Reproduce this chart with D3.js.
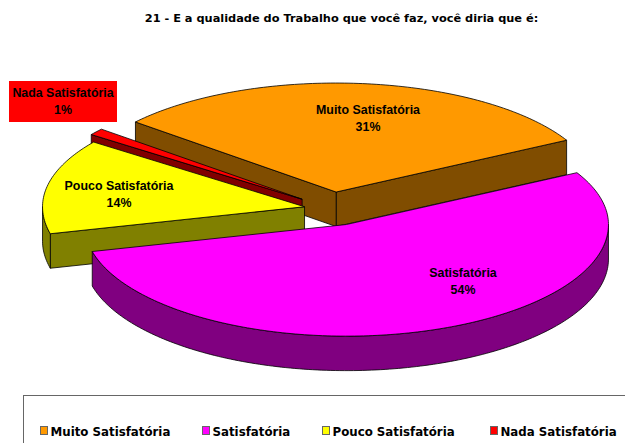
<!DOCTYPE html>
<html>
<head>
<meta charset="utf-8">
<script src="https://cdn.jsdelivr.net/npm/d3@7"></script>
<style>
html,body{margin:0;padding:0;background:#fff;overflow:hidden}
svg{display:block}
</style>
</head>
<body>
<svg id="c" width="625" height="443"></svg>
<script>
const title = "21 - E a qualidade do Trabalho que você faz, você diria que é:";
const categories = ["Muito Satisfatória","Satisfatória","Pouco Satisfatória","Nada Satisfatória"];
const values = [31,54,14,1];
const topColors = ["#FF9900","#FF00FF","#FFFF00","#FF0000"];
const sideColors = ["#804D00","#800080","#808000","#800000"];
const explosions = [41,40,28,38];

// layout
const W=625,H=443,cx=332,cy=209,R=262,squashFar=0.416,squashNear=0.426,depth=34.5;
const rad=d=>d*Math.PI/180;
const drawOrder=[0,3,2,1];
const labelCentres=[[368,110],[463,273],[119,186],[63,93]];
const legendMarks=[40,202,322,490];
const svg=d3.select("#c");

const arcs=d3.pie().sort(null).startAngle(rad(-50)).endAngle(rad(310))(values);
const line=d3.line();
const rim=(o,a,dz=0)=>{const c=Math.cos(a);
  return [o[0]+R*Math.sin(a),o[1]-R*(c<0?squashNear:squashFar)*c+dz];};
const sweep=(a0,a1)=>{const n=Math.max(2,Math.ceil(Math.abs(a1-a0)/rad(1)));
  return d3.range(n+1).map(i=>a0+(a1-a0)*i/n);};

const pieG=svg.append("g").attr("stroke","#000").attr("stroke-width",0.8).attr("stroke-linejoin","round");
drawOrder.forEach(i=>{
  const d=arcs[i],mid=(d.startAngle+d.endAngle)/2,e=explosions[i];
  const o=[cx+e*Math.sin(mid),cy-e*squashFar*Math.cos(mid)];
  const side=sideColors[i];
  // cut faces that look toward the viewer
  [d.endAngle,d.startAngle].forEach((a,k)=>{
    const visible=k===0?Math.sin(a)>0:Math.sin(a)<0;
    if(!visible) return;
    const p=rim(o,a);
    pieG.append("path").attr("fill",side)
      .attr("d",line([o,p,[p[0],p[1]+depth],[o[0],o[1]+depth]])+"Z");
  });
  // outer wall: the part of the rim on the near side
  const a0=Math.max(d.startAngle,Math.PI/2),a1=Math.min(d.endAngle,3*Math.PI/2);
  if(a1>a0){
    const up=sweep(a0,a1).map(a=>rim(o,a));
    const dn=sweep(a1,a0).map(a=>rim(o,a,depth));
    pieG.append("path").attr("fill",side).attr("d",line(up.concat(dn))+"Z");
  }
  // top face
  const top=[o].concat(sweep(d.startAngle,d.endAngle).map(a=>rim(o,a)));
  pieG.append("path").attr("fill",topColors[i]).attr("d",line(top)+"Z");
});

// title
svg.append("text").attr("x",341.5).attr("y",22).attr("text-anchor","middle")
  .attr("font-family","'DejaVu Sans',Verdana,sans-serif").attr("font-weight","bold")
  .attr("font-size",11.35).attr("fill","#000").text(title);

// red background of the small slice's label
svg.append("rect").attr("x",9).attr("y",81).attr("width",108).attr("height",41).attr("fill",topColors[3]);

// data labels
const labelG=svg.append("g").attr("font-family","'Liberation Sans',Arial,sans-serif")
  .attr("font-weight","bold").attr("font-size",12.4).attr("text-anchor","middle").attr("fill","#000");
categories.forEach((c,i)=>{
  const [x,y]=labelCentres[i];
  labelG.append("text").attr("x",x).attr("y",y+4).text(c);
  labelG.append("text").attr("x",x).attr("y",y+21).text(values[i]+"%");
});

// legend
svg.append("rect").attr("x",23.5).attr("y",395.5).attr("width",640).attr("height",80)
  .attr("fill","#fff").attr("stroke","#666").attr("stroke-width",1);
categories.forEach((c,i)=>{
  const x=legendMarks[i];
  svg.append("rect").attr("x",x+.5).attr("y",426.5).attr("width",7).attr("height",8)
    .attr("fill",topColors[i]).attr("stroke","#666").attr("stroke-width",1);
  svg.append("text").attr("x",x+10.5).attr("y",435.5)
    .attr("font-family","'DejaVu Sans',Verdana,sans-serif").attr("font-weight","bold")
    .attr("font-size",11.8).attr("fill","#000").text(c);
});
</script>
</body>
</html>
